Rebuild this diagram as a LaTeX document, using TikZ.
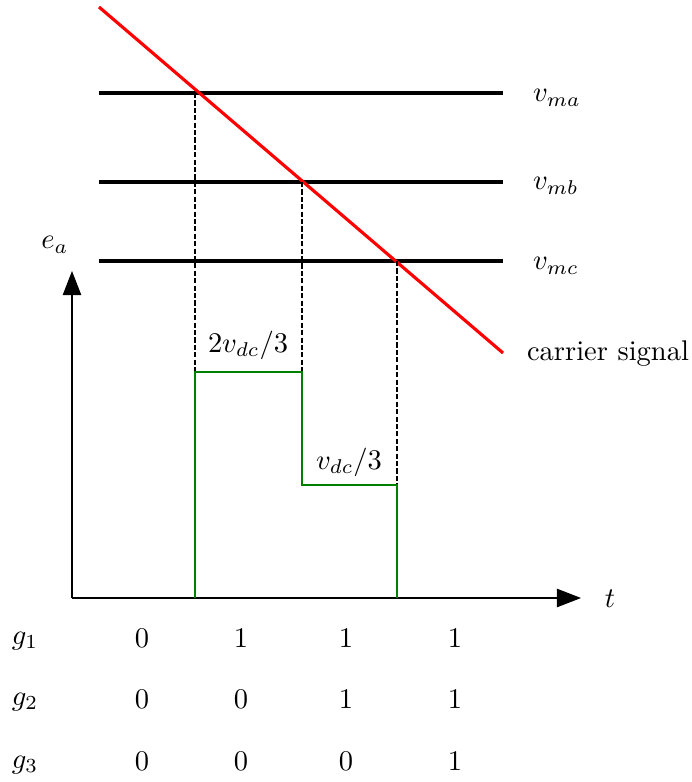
\documentclass[tikz,border=0pt]{standalone}
\usepackage{amsmath,amssymb}
\usepackage{tikz}
\usetikzlibrary{arrows.meta}

\begin{document}
\begin{tikzpicture}[x=0.351pt, y=-0.351pt, >={Triangle[length=8.5pt,width=6.5pt]}, level/.style={line width=1.1pt}, carrier/.style={red,line width=1.1pt}, pulse/.style={green!50!black,line width=0.9pt}, guide/.style={dash pattern=on 1.8pt off 0.8pt,line width=0.45pt}, axis/.style={line width=0.4pt,->}]
\useasboundingbox (0,0) rectangle (691,782);
% reference levels and carrier
\coordinate (ma-l) at (99,93);  \coordinate (ma-r) at (503,93);
\coordinate (mb-l) at (99,182); \coordinate (mb-r) at (503,182);
\coordinate (mc-l) at (99,261); \coordinate (mc-r) at (503,261);
\coordinate (cs) at (99,7);
\coordinate (ce) at (503,353);
\draw[level] (ma-l) -- (ma-r);
\draw[level] (mb-l) -- (mb-r);
\draw[level] (mc-l) -- (mc-r);
\draw[carrier] (cs) -- (ce);
\node[anchor=west] (vma) at (523,98) {$v_{ma}$};
\node[anchor=west] (vmb) at (523,186) {$v_{mb}$};
\node[anchor=west] (vmc) at (523,266) {$v_{mc}$};
\node[anchor=west] (cslabel) at (517,354) {carrier signal};
% axes
\coordinate (o) at (72,598);
\coordinate (ytip) at (72,271);
\coordinate (xtip) at (581,598);
\draw[axis] (o) -- (ytip);
\draw[axis] (o) -- (xtip);
\node (ea) at (55,245) {$e_a$};
\node (t) at (610,599) {$t$};
% switching instants
\coordinate (x1) at (195,93);  \coordinate (s1) at (195,372);
\coordinate (x2) at (302,182); \coordinate (s2) at (302,372);
\coordinate (x3) at (397,261); \coordinate (s3) at (397,485);
\draw[guide] (x1) -- (s1);
\draw[guide] (x2) -- (s2);
\draw[guide] (x3) -- (s3);
% output voltage
\draw[pulse] (195,598) -- (s1) -- (s2) -- (302,485) -- (s3) -- (397,598);
\node (hi) at (248,345) {$2v_{dc}/3$};
\node (lo) at (349,462) {$v_{dc}/3$};
% switching states
\node (g1) at (25,641) {$g_1$};
\node (g2) at (25,702) {$g_2$};
\node (g3) at (25,765) {$g_3$};
\node (g1a) at (142,638) {0}; \node (g1b) at (241,638) {1}; \node (g1c) at (346,638) {1}; \node (g1d) at (455,638) {1};
\node (g2a) at (142,699) {0}; \node (g2b) at (241,699) {0}; \node (g2c) at (346,699) {1}; \node (g2d) at (455,699) {1};
\node (g3a) at (142,761) {0}; \node (g3b) at (241,761) {0}; \node (g3c) at (346,761) {0}; \node (g3d) at (455,761) {1};
\end{tikzpicture}
\end{document}
